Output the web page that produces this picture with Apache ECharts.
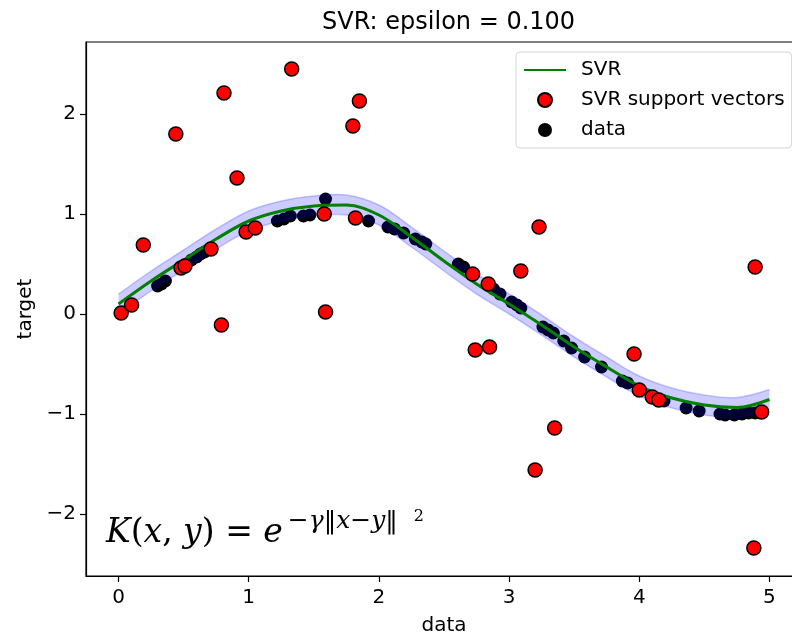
<!DOCTYPE html>
<html><head><meta charset="utf-8">
<script src="https://cdn.jsdelivr.net/npm/echarts@6/dist/echarts.min.js"></script>
<style>html,body{margin:0;padding:0;background:#fff}#c{width:792px;height:634px}</style>
</head><body><div id="c"></div>
<script>
// SVR prediction curve
const curveX = [0, 0.25, 0.5, 0.75, 1.0, 1.25, 1.5, 1.75, 2.0, 2.25, 2.5, 2.75, 3.0, 3.25, 3.5, 3.75, 4.0, 4.25, 4.5, 4.75, 5.0];
const curveY = [0.10, 0.33, 0.54, 0.75, 0.93, 1.03, 1.08, 1.09, 0.99, 0.77, 0.53, 0.30, 0.10, -0.11, -0.33, -0.53, -0.72, -0.84, -0.91, -0.935, -0.855];
const epsilon = 0.1;

// support vectors
const svX = [0.02, 0.10, 0.19, 0.44, 0.48, 0.51, 0.71, 0.79, 0.81, 0.91, 0.98, 1.05, 1.33, 1.58, 1.59, 1.80, 1.85, 1.82, 2.72, 2.84, 2.74, 2.85, 3.09, 3.23, 3.20, 3.35, 3.96, 4.00, 4.10, 4.15, 4.89, 4.94, 4.88];
const svY = [0.01, 0.09, 0.69, 1.80, 0.46, 0.48, 0.65, -0.11, 2.21, 1.36, 0.82, 0.86, 2.45, 1.00, 0.02, 1.88, 2.13, 0.96, 0.40, 0.30, -0.36, -0.33, 0.43, 0.87, -1.56, -1.14, -0.40, -0.76, -0.83, -0.86, 0.47, -0.98, -2.34];

// other data points
const dataX = [0.30, 0.33, 0.36, 0.56, 0.60, 0.63, 0.66, 1.22, 1.27, 1.32, 1.42, 1.47, 1.59, 1.92, 2.07, 2.12, 2.19, 2.28, 2.33, 2.36, 2.61, 2.65, 2.88, 2.93, 3.02, 3.06, 3.09, 3.26, 3.30, 3.34, 3.42, 3.48, 3.58, 3.71, 3.87, 3.91, 4.19, 4.36, 4.46, 4.62, 4.66, 4.73, 4.79, 4.84, 4.89];
const dataY = [0.28, 0.30, 0.33, 0.54, 0.57, 0.60, 0.62, 0.93, 0.95, 0.98, 0.98, 0.99, 1.15, 0.93, 0.87, 0.85, 0.81, 0.75, 0.72, 0.70, 0.50, 0.47, 0.25, 0.20, 0.12, 0.09, 0.06, -0.13, -0.16, -0.19, -0.27, -0.34, -0.43, -0.53, -0.67, -0.69, -0.87, -0.94, -0.97, -1.00, -1.01, -1.01, -1.00, -0.99, -0.99];

const xTicks = [0, 1, 2, 3, 4, 5];
const yTicks = [-2, -1, 0, 1, 2];

const pairs = (xs, ys) => xs.map((x, i) => [x, ys[i]]);
const FONT = 'DejaVu Sans';
const SMOOTH = 0.35;
const fmt = v => String(v).replace('-', '\u2212');

// bezier path through projected points (same style as echarts' smoothed line)
function smoothPath(pts, s, start) {
  const n = pts.length, cin = [], cout = [];
  for (let i = 0; i < n; i++) {
    const p = pts[i];
    if (i === 0 || i === n - 1) { cin[i] = p; cout[i] = p; continue; }
    const a = pts[i - 1], b = pts[i + 1];
    const vx = b[0] - a[0], vy = b[1] - a[1];
    const d0 = Math.hypot(p[0] - a[0], p[1] - a[1]), d1 = Math.hypot(b[0] - p[0], b[1] - p[1]);
    const r0 = d0 / (d0 + d1), r1 = d1 / (d0 + d1);
    cin[i] = [p[0] - vx * s * r0, p[1] - vy * s * r0];
    cout[i] = [p[0] + vx * s * r1, p[1] + vy * s * r1];
  }
  let d = start + pts[0][0] + ' ' + pts[0][1];
  for (let i = 1; i < n; i++) {
    d += ' C' + cout[i - 1][0] + ' ' + cout[i - 1][1] + ' ' + cin[i][0] + ' ' + cin[i][1] + ' ' + pts[i][0] + ' ' + pts[i][1];
  }
  return d;
}

const chart = echarts.init(document.getElementById('c'), null, {renderer: 'canvas'});
chart.setOption({
  animation: false,
  backgroundColor: '#fff',
  title: {
    text: 'SVR: epsilon = 0.100', left: 317, top: 6,
    textStyle: {fontFamily: FONT, fontSize: 24, fontWeight: 'normal', color: '#000'}
  },
  grid: {left: 86, top: 42, width: 716, height: 534, show: true, borderColor: '#000', borderWidth: 1.2,
         containLabel: false, outerBoundsMode: 'none'},
  legend: {
    left: 516, top: 52, orient: 'vertical',
    itemWidth: 42, itemHeight: 14, itemGap: 10,
    padding: [8, 7, 8, 7],
    borderColor: '#d6d6d6', borderWidth: 1, borderRadius: 4,
    backgroundColor: 'rgba(255,255,255,0.85)',
    textStyle: {fontFamily: FONT, fontSize: 20, color: '#000', lineHeight: 20, padding: [0, 0, 0, 10]},
    data: [
      {name: 'SVR', itemStyle: {opacity: 0}},
      {name: 'SVR support vectors'},
      {name: 'data'}
    ]
  },
  xAxis: {
    type: 'value', min: -0.25, max: 5.25,
    name: 'data', nameLocation: 'middle', nameGap: 40,
    nameTextStyle: {fontFamily: FONT, fontSize: 20, color: '#000'},
    axisLine: {show: true, onZero: false, lineStyle: {color: '#000', width: 1.2}},
    axisTick: {show: true, length: 6, customValues: xTicks, lineStyle: {color: '#000', width: 1.2}},
    axisLabel: {customValues: xTicks, fontFamily: FONT, fontSize: 20, color: '#000', margin: 12, formatter: fmt},
    splitLine: {show: false}
  },
  yAxis: {
    type: 'value', min: -2.62, max: 2.72,
    name: 'target', nameLocation: 'middle', nameGap: 50,
    nameTextStyle: {fontFamily: FONT, fontSize: 20, color: '#000'},
    axisLine: {show: true, onZero: false, lineStyle: {color: '#000', width: 1.2}},
    axisTick: {show: true, length: 6, customValues: yTicks, lineStyle: {color: '#000', width: 1.2}},
    axisLabel: {customValues: yTicks, fontFamily: FONT, fontSize: 20, color: '#000', margin: 10, formatter: fmt},
    splitLine: {show: false}
  },
  graphic: [{
    type: 'text', left: 106, top: 509, z: 100,
    style: {
      text: '{i|K}{r|(}{i|x}{r|, }{i|y}{r|) = }{i|e}{sr|\u2009\u2212}{si|\u03b3}{sr|\u2016}{si|x}{sr|\u2212}{si|y}{sr|\u2016  }{sq|2}',
      rich: {
        i: {fontFamily: 'DejaVu Serif', fontStyle: 'italic', fontSize: 33, lineHeight: 41, verticalAlign: 'bottom', fill: '#000'},
        r: {fontFamily: 'DejaVu Serif', fontSize: 33, lineHeight: 41, verticalAlign: 'bottom', fill: '#000'},
        si: {fontFamily: 'DejaVu Serif', fontStyle: 'italic', fontSize: 25, lineHeight: 29, verticalAlign: 'top', fill: '#000'},
        sr: {fontFamily: 'DejaVu Serif', fontSize: 25, lineHeight: 29, verticalAlign: 'top', fill: '#000'},
        sq: {fontFamily: 'DejaVu Serif', fontSize: 16, lineHeight: 18, verticalAlign: 'top', fill: '#000'}
      }
    }
  }],
  series: [
    {
      name: 'data', type: 'scatter', data: pairs(dataX, dataY), symbolSize: 13,
      itemStyle: {color: '#000', opacity: 1}, z: 1
    },
    {
      name: 'band', type: 'custom', silent: true, z: 2,
      data: [0],
      renderItem: function (params, api) {
        const up = curveX.map((x, i) => api.coord([x, curveY[i] + epsilon]));
        const lo = curveX.map((x, i) => api.coord([x, curveY[i] - epsilon]));
        const loRev = lo.slice().reverse();
        const upD = smoothPath(up, SMOOTH, 'M');
        const loD = smoothPath(lo, SMOOTH, 'M');
        const fillD = upD + ' ' + smoothPath(loRev, SMOOTH, 'L') + ' Z';
        return {
          type: 'group',
          children: [
            {type: 'path', shape: {pathData: fillD}, style: {fill: 'rgba(0,0,255,0.2)', stroke: null}},
            {type: 'path', shape: {pathData: upD}, style: {fill: null, stroke: 'rgba(0,0,255,0.2)', lineWidth: 1.5}},
            {type: 'path', shape: {pathData: loD}, style: {fill: null, stroke: 'rgba(0,0,255,0.2)', lineWidth: 1.5}}
          ]
        };
      }
    },
    {
      name: 'SVR', type: 'line', smooth: SMOOTH, symbol: 'none', data: pairs(curveX, curveY),
      lineStyle: {color: '#008000', width: 3}, itemStyle: {color: '#008000'}, z: 3
    },
    {
      name: 'SVR support vectors', type: 'scatter', data: pairs(svX, svY), symbolSize: 14,
      itemStyle: {color: '#ff0000', borderColor: '#000', borderWidth: 1.5, opacity: 1}, z: 4
    }
  ]
});
</script></body></html>
